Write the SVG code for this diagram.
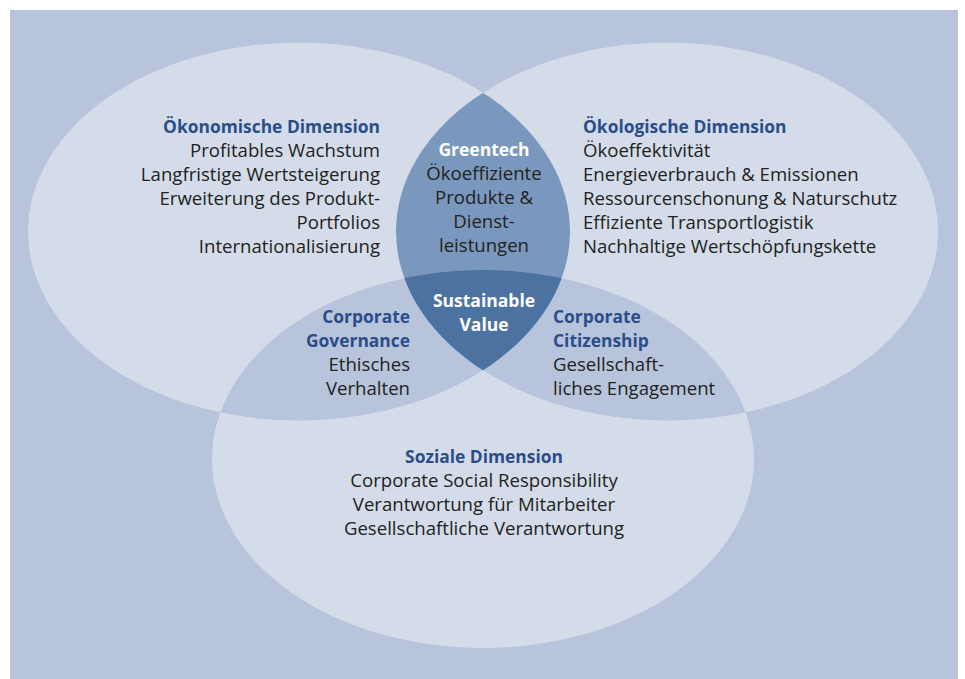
<svg xmlns="http://www.w3.org/2000/svg" width="965" height="679" viewBox="0 0 965 679">
  <style>
    text { font-family: "Open Sans", "Noto Sans", "Liberation Sans", sans-serif; font-size: 18.6px; fill: #222222; }
    .h { font-weight: bold; fill: #2b4e89; font-size: 17.4px; }
    .w { font-weight: bold; fill: #ffffff; font-size: 17.5px; }
    .end { text-anchor: end; }
    .mid { text-anchor: middle; }
    .light { fill: #d4dce9; }
    .pair { fill: #b7c4dc; }
    .top { fill: #7a98bd; }
    .core { fill: #4b72a0; }
  </style>
  <defs>
    <ellipse id="eL" cx="299" cy="231.5" rx="271" ry="189"/>
    <ellipse id="eR" cx="667" cy="231.5" rx="271" ry="189"/>
    <ellipse id="eB" cx="483" cy="459" rx="271" ry="189"/>
    <clipPath id="cR"><use href="#eR"/></clipPath>
    <clipPath id="cB"><use href="#eB"/></clipPath>
  </defs>

  <rect x="10" y="10" width="948" height="669" fill="#b7c4dc"/>

  <!-- circles and their overlaps -->
  <g id="venn">
    <use href="#eL" class="light"/>
    <use href="#eR" class="light"/>
    <use href="#eB" class="light"/>
    <use href="#eL" class="pair" clip-path="url(#cB)"/>
    <use href="#eR" class="pair" clip-path="url(#cB)"/>
    <use href="#eL" class="top" clip-path="url(#cR)"/>
    <g clip-path="url(#cB)">
      <use href="#eL" class="core" clip-path="url(#cR)"/>
    </g>
  </g>

  <g id="oekonomisch">
    <text class="h end" x="380" y="133">Ökonomische Dimension</text>
    <text class="end" x="380" y="157">Profitables Wachstum</text>
    <text class="end" x="380" y="181">Langfristige Wertsteigerung</text>
    <text class="end" x="380" y="205">Erweiterung des Produkt-</text>
    <text class="end" x="380" y="229">Portfolios</text>
    <text class="end" x="380" y="253">Internationalisierung</text>
  </g>

  <g id="oekologisch">
    <text class="h" x="583" y="133">Ökologische Dimension</text>
    <text x="583" y="157">Ökoeffektivität</text>
    <text x="583" y="181">Energieverbrauch &amp; Emissionen</text>
    <text x="583" y="205">Ressourcenschonung &amp; Naturschutz</text>
    <text x="583" y="229">Effiziente Transportlogistik</text>
    <text x="583" y="253">Nachhaltige Wertschöpfungskette</text>
  </g>

  <g id="greentech">
    <text class="w mid" x="484" y="156">Greentech</text>
    <text class="mid" x="484" y="180">Ökoeffiziente</text>
    <text class="mid" x="484" y="204">Produkte &amp;</text>
    <text class="mid" x="484" y="228">Dienst-</text>
    <text class="mid" x="484" y="252">leistungen</text>
  </g>

  <g id="sustainable-value">
    <text class="w mid" x="484" y="307">Sustainable</text>
    <text class="w mid" x="484" y="331">Value</text>
  </g>

  <g id="governance">
    <text class="h end" x="410" y="323">Corporate</text>
    <text class="h end" x="410" y="347">Governance</text>
    <text class="end" x="410" y="371">Ethisches</text>
    <text class="end" x="410" y="395">Verhalten</text>
  </g>

  <g id="citizenship">
    <text class="h" x="553" y="323">Corporate</text>
    <text class="h" x="553" y="347">Citizenship</text>
    <text x="553" y="371">Gesellschaft-</text>
    <text x="553" y="395">liches Engagement</text>
  </g>

  <g id="sozial">
    <text class="h mid" x="484" y="463">Soziale Dimension</text>
    <text class="mid" x="484" y="487">Corporate Social Responsibility</text>
    <text class="mid" x="484" y="511">Verantwortung für Mitarbeiter</text>
    <text class="mid" x="484" y="535">Gesellschaftliche Verantwortung</text>
  </g>
</svg>
